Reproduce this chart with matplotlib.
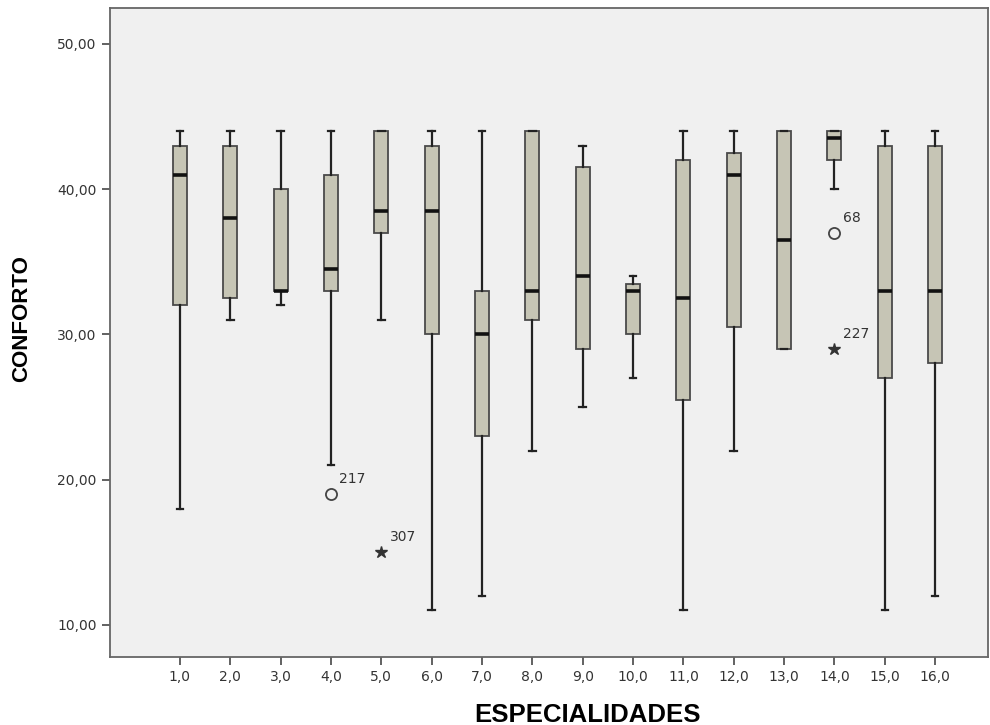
import numpy as np
import matplotlib.pyplot as plt

# caixa de bigodes CONFORTO x ESPECIALIDADES
cats = [1, 2, 3, 4, 5, 6, 7, 8, 9, 10, 11, 12, 13, 14, 15, 16]
whislo = [18, 31, 32, 21, 31, 11, 12, 22, 25, 27, 11, 22, 29, 40, 11, 12]
q1 = [32, 32.5, 33, 33, 37, 30, 23, 31, 29, 30, 25.5, 30.5, 29, 42, 27, 28]
med = [41, 38, 33, 34.5, 38.5, 38.5, 30, 33, 34, 33, 32.5, 41, 36.5, 43.5, 33, 33]
q3 = [43, 43, 40, 41, 44, 43, 33, 44, 41.5, 33.5, 42, 42.5, 44, 44, 43, 43]
whishi = [44, 44, 44, 44, 44, 44, 44, 44, 43, 34, 44, 44, 44, 44, 44, 44]

out_x = [4, 5, 14, 14]
out_y = [19, 15, 37, 29]
out_kind = ['o', '*', 'o', '*']
out_label = ['217', '307', '68', '227']

stats = []
for i in range(len(cats)):
    stats.append(dict(whislo=whislo[i], q1=q1[i], med=med[i], q3=q3[i],
                      whishi=whishi[i], fliers=[]))

fig = plt.figure(figsize=(9.9, 7.25), dpi=100)
ax = fig.add_axes([0.111, 0.094, 0.887, 0.895])
ax.set_facecolor('#f0f0f0')

ax.bxp(stats, positions=cats, widths=0.28, patch_artist=True, showfliers=False,
       boxprops=dict(facecolor='#c6c5b5', edgecolor='#4a4a4a', linewidth=1.3),
       medianprops=dict(color='#111111', linewidth=2.6),
       whiskerprops=dict(color='#222222', linewidth=1.6),
       capprops=dict(color='#222222', linewidth=1.6), capwidths=0.13)

for x, y, k, lab in zip(out_x, out_y, out_kind, out_label):
    if k == 'o':
        ax.plot(x, y, 'o', ms=8, mfc='none', mec='#444444', mew=1.3)
    else:
        ax.plot(x, y, '*', ms=9, color='#333333')
    ax.annotate(lab, (x, y), xytext=(6, 8), textcoords='offset points',
                fontsize=10, color='#333333')

ax.set_xlim(-0.39, 17.05)
ax.set_ylim(7.8, 52.48)
ax.set_yticks([10, 20, 30, 40, 50])
ax.set_yticklabels(['10,00', '20,00', '30,00', '40,00', '50,00'])
ax.set_xticks(cats)
ax.set_xticklabels([f'{c},0' for c in cats])
ax.tick_params(axis='both', colors='#555555', labelcolor='#333333', labelsize=10,
               length=6, width=1.3, direction='out')
for s in ax.spines.values():
    s.set_color('#666666')
    s.set_linewidth(1.3)

ax.set_xlabel('ESPECIALIDADES', fontsize=18.5, fontweight='bold',
              family=['Liberation Sans', 'DejaVu Sans'])
ax.xaxis.set_label_coords(0.544, -0.071)
ax.set_ylabel('CONFORTO', fontsize=16, fontweight='bold',
              family=['Liberation Sans Narrow', 'Liberation Sans', 'DejaVu Sans'])
ax.yaxis.set_label_coords(-0.088, 0.522)

fig.savefig('out.png', dpi=100)
